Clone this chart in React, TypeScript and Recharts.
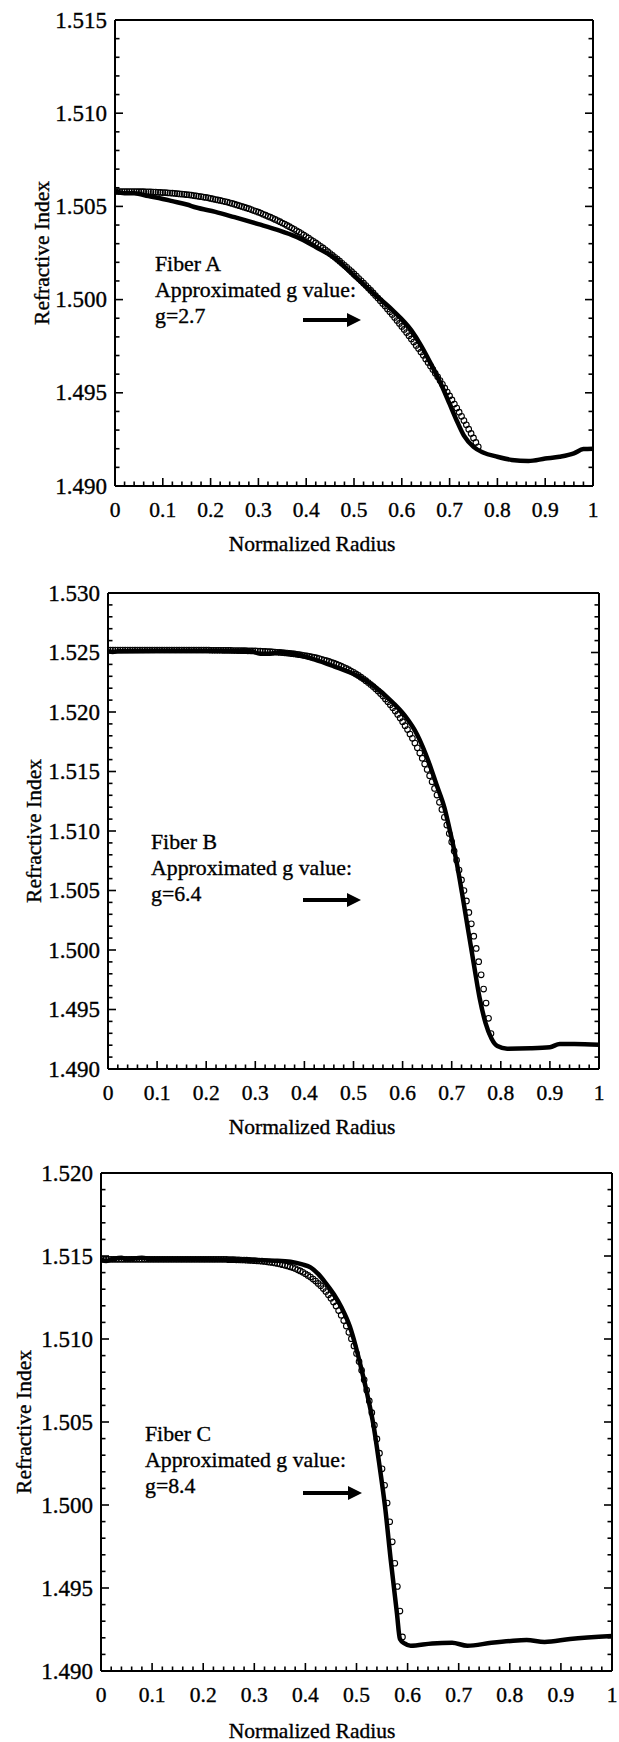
import React from 'react';
import { ComposedChart, Line, Scatter, XAxis, YAxis } from 'recharts';

const FONT = 'Liberation Serif, Times New Roman, Times, serif';

// shared x ticks, minor every 0.02
const xTicks = [0, 0.02, 0.04, 0.06, 0.08, 0.1, 0.12, 0.14, 0.16, 0.18, 0.2, 0.22, 0.24, 0.26, 0.28, 0.3, 0.32, 0.34, 0.36, 0.38, 0.4, 0.42, 0.44, 0.46, 0.48, 0.5, 0.52, 0.54, 0.56, 0.58, 0.6, 0.62, 0.64, 0.66, 0.68, 0.7, 0.72, 0.74, 0.76, 0.78, 0.8, 0.82, 0.84, 0.86, 0.88, 0.9, 0.92, 0.94, 0.96, 0.98, 1];

const yTicksA = [1.49, 1.491, 1.492, 1.493, 1.494, 1.495, 1.496, 1.497, 1.498, 1.499, 1.5, 1.501, 1.502, 1.503, 1.504, 1.505, 1.506, 1.507, 1.508, 1.509, 1.51, 1.511, 1.512, 1.513, 1.514, 1.515];
const yTicksB = [1.49, 1.491, 1.492, 1.493, 1.494, 1.495, 1.496, 1.497, 1.498, 1.499, 1.5, 1.501, 1.502, 1.503, 1.504, 1.505, 1.506, 1.507, 1.508, 1.509, 1.51, 1.511, 1.512, 1.513, 1.514, 1.515, 1.516, 1.517, 1.518, 1.519, 1.52, 1.521, 1.522, 1.523, 1.524, 1.525, 1.526, 1.527, 1.528, 1.529, 1.53];
const yTicksC = [1.49, 1.491, 1.492, 1.493, 1.494, 1.495, 1.496, 1.497, 1.498, 1.499, 1.5, 1.501, 1.502, 1.503, 1.504, 1.505, 1.506, 1.507, 1.508, 1.509, 1.51, 1.511, 1.512, 1.513, 1.514, 1.515, 1.516, 1.517, 1.518, 1.519, 1.52];

type Pt = [number, number];

// Fiber A: measured profile (thick line) and g-profile fit (circles)
const measuredA: Pt[] = [[0, 1.5058], [0.02, 1.5057], [0.04, 1.5057], [0.07, 1.50555], [0.1, 1.5054], [0.12, 1.50528], [0.15, 1.5051], [0.17, 1.50494], [0.21, 1.50471], [0.25, 1.50442], [0.3, 1.50405], [0.34, 1.50374], [0.38, 1.50336], [0.42, 1.50282], [0.46, 1.50222], [0.5, 1.50128], [0.54, 1.50035], [0.58, 1.49945], [0.62, 1.49835], [0.64, 1.49755], [0.665, 1.49635], [0.685, 1.4953], [0.7, 1.4944], [0.715, 1.4935], [0.73, 1.4927], [0.75, 1.4921], [0.77, 1.4918], [0.8, 1.49157], [0.83, 1.4914], [0.865, 1.49134], [0.9, 1.49147], [0.93, 1.49157], [0.96, 1.49175], [0.98, 1.49198], [1, 1.492]];
const fitA: Pt[] = [[0, 1.5058], [0.005, 1.5058], [0.01, 1.5058], [0.015, 1.5058], [0.02, 1.5058], [0.025, 1.5058], [0.03, 1.5058], [0.035, 1.5058], [0.04, 1.5058], [0.045, 1.5058], [0.05, 1.50579], [0.055, 1.50579], [0.06, 1.50579], [0.065, 1.50578], [0.07, 1.50578], [0.075, 1.50578], [0.08, 1.50577], [0.085, 1.50577], [0.09, 1.50576], [0.095, 1.50575], [0.1, 1.50574], [0.105, 1.50574], [0.11, 1.50573], [0.115, 1.50572], [0.12, 1.50571], [0.125, 1.5057], [0.13, 1.50568], [0.135, 1.50567], [0.14, 1.50566], [0.145, 1.50565], [0.15, 1.50563], [0.155, 1.50562], [0.16, 1.5056], [0.165, 1.50558], [0.17, 1.50556], [0.175, 1.50554], [0.18, 1.50552], [0.185, 1.5055], [0.19, 1.50548], [0.195, 1.50546], [0.2, 1.50543], [0.205, 1.5054], [0.21, 1.50537], [0.215, 1.50535], [0.22, 1.50532], [0.225, 1.50529], [0.23, 1.50526], [0.235, 1.50523], [0.24, 1.50519], [0.245, 1.50516], [0.25, 1.50512], [0.255, 1.50508], [0.26, 1.50504], [0.265, 1.505], [0.27, 1.50496], [0.275, 1.50492], [0.28, 1.50488], [0.285, 1.50483], [0.29, 1.50478], [0.295, 1.50474], [0.3, 1.50469], [0.305, 1.50464], [0.31, 1.50458], [0.315, 1.50453], [0.32, 1.50447], [0.325, 1.50442], [0.33, 1.50436], [0.335, 1.5043], [0.34, 1.50424], [0.345, 1.50418], [0.35, 1.50411], [0.355, 1.50405], [0.36, 1.50398], [0.365, 1.50391], [0.37, 1.50384], [0.375, 1.50377], [0.38, 1.50369], [0.385, 1.50362], [0.39, 1.50354], [0.395, 1.50346], [0.4, 1.50338], [0.405, 1.5033], [0.41, 1.50321], [0.415, 1.50313], [0.42, 1.50304], [0.425, 1.50295], [0.43, 1.50286], [0.435, 1.50277], [0.44, 1.50267], [0.445, 1.50257], [0.45, 1.50247], [0.455, 1.50237], [0.46, 1.50227], [0.465, 1.50217], [0.47, 1.50206], [0.475, 1.50195], [0.48, 1.50184], [0.485, 1.50173], [0.49, 1.50161], [0.495, 1.5015], [0.5, 1.50138], [0.505, 1.50126], [0.51, 1.50113], [0.515, 1.50101], [0.52, 1.50088], [0.525, 1.50075], [0.53, 1.50062], [0.535, 1.50049], [0.54, 1.50036], [0.545, 1.50022], [0.55, 1.50008], [0.555, 1.49994], [0.56, 1.49979], [0.565, 1.49965], [0.57, 1.4995], [0.575, 1.49935], [0.58, 1.4992], [0.585, 1.49904], [0.59, 1.49888], [0.595, 1.49872], [0.6, 1.49856], [0.605, 1.4984], [0.61, 1.49823], [0.615, 1.49806], [0.62, 1.49789], [0.625, 1.49772], [0.63, 1.49754], [0.635, 1.49737], [0.64, 1.49719], [0.645, 1.49701], [0.65, 1.49682], [0.655, 1.49663], [0.66, 1.49644], [0.665, 1.49625], [0.67, 1.49605], [0.675, 1.49586], [0.68, 1.49566], [0.685, 1.49546], [0.69, 1.49525], [0.695, 1.49504], [0.7, 1.49483], [0.705, 1.49462], [0.71, 1.4944], [0.715, 1.49418], [0.72, 1.49396], [0.725, 1.49374], [0.73, 1.49351], [0.735, 1.49328], [0.74, 1.49305], [0.745, 1.49282], [0.75, 1.49258], [0.755, 1.49234], [0.76, 1.4921]];

// Fiber B
const measuredB: Pt[] = [[0, 1.5251], [0.01, 1.52505], [0.02, 1.5251], [0.1, 1.52515], [0.2, 1.52515], [0.29, 1.5251], [0.31, 1.5249], [0.33, 1.5249], [0.35, 1.52502], [0.38, 1.52487], [0.42, 1.52442], [0.46, 1.52384], [0.5, 1.5232], [0.54, 1.52224], [0.58, 1.5208], [0.605, 1.51967], [0.63, 1.51807], [0.653, 1.51582], [0.669, 1.5139], [0.685, 1.51198], [0.697, 1.5099], [0.709, 1.5076], [0.721, 1.5048], [0.733, 1.5018], [0.745, 1.49883], [0.757, 1.49594], [0.769, 1.49386], [0.781, 1.49257], [0.793, 1.49193], [0.813, 1.49171], [0.86, 1.49174], [0.9, 1.49183], [0.92, 1.4921], [0.95, 1.4921], [1, 1.49203]];
const fitB: Pt[] = [[0, 1.5252], [0.005, 1.5252], [0.01, 1.5252], [0.015, 1.5252], [0.02, 1.5252], [0.025, 1.5252], [0.03, 1.5252], [0.035, 1.5252], [0.04, 1.5252], [0.045, 1.5252], [0.05, 1.5252], [0.055, 1.5252], [0.06, 1.5252], [0.065, 1.5252], [0.07, 1.5252], [0.075, 1.5252], [0.08, 1.5252], [0.085, 1.5252], [0.09, 1.5252], [0.095, 1.5252], [0.1, 1.5252], [0.105, 1.5252], [0.11, 1.5252], [0.115, 1.5252], [0.12, 1.5252], [0.125, 1.5252], [0.13, 1.5252], [0.135, 1.5252], [0.14, 1.5252], [0.145, 1.5252], [0.15, 1.5252], [0.155, 1.5252], [0.16, 1.5252], [0.165, 1.5252], [0.17, 1.5252], [0.175, 1.5252], [0.18, 1.5252], [0.185, 1.5252], [0.19, 1.5252], [0.195, 1.5252], [0.2, 1.5252], [0.205, 1.5252], [0.21, 1.52519], [0.215, 1.52519], [0.22, 1.52519], [0.225, 1.52519], [0.23, 1.52519], [0.235, 1.52518], [0.24, 1.52518], [0.245, 1.52518], [0.25, 1.52518], [0.255, 1.52517], [0.26, 1.52517], [0.265, 1.52516], [0.27, 1.52516], [0.275, 1.52515], [0.28, 1.52515], [0.285, 1.52514], [0.29, 1.52514], [0.295, 1.52513], [0.3, 1.52513], [0.305, 1.52512], [0.31, 1.52511], [0.315, 1.5251], [0.32, 1.52509], [0.325, 1.52508], [0.33, 1.52507], [0.335, 1.52505], [0.34, 1.52504], [0.345, 1.52502], [0.35, 1.52501], [0.355, 1.52499], [0.36, 1.52497], [0.365, 1.52495], [0.37, 1.52493], [0.375, 1.5249], [0.38, 1.52488], [0.385, 1.52485], [0.39, 1.52482], [0.395, 1.52478], [0.4, 1.52475], [0.405, 1.52471], [0.41, 1.52467], [0.415, 1.52463], [0.42, 1.52459], [0.425, 1.52454], [0.43, 1.52449], [0.435, 1.52443], [0.44, 1.52437], [0.445, 1.52431], [0.45, 1.52425], [0.455, 1.52417], [0.46, 1.5241], [0.465, 1.52402], [0.47, 1.52394], [0.475, 1.52385], [0.48, 1.52376], [0.485, 1.52366], [0.49, 1.52356], [0.495, 1.52344], [0.5, 1.52333], [0.505, 1.5232], [0.51, 1.52307], [0.515, 1.52293], [0.52, 1.52279], [0.525, 1.52263], [0.53, 1.52248], [0.535, 1.52231], [0.54, 1.52214], [0.545, 1.52195], [0.55, 1.52176], [0.555, 1.52155], [0.56, 1.52134], [0.565, 1.5211], [0.57, 1.52087], [0.575, 1.52061], [0.58, 1.52036], [0.585, 1.52008], [0.59, 1.5198], [0.595, 1.51949], [0.6, 1.51919], [0.605, 1.51885], [0.61, 1.51852], [0.615, 1.51815], [0.62, 1.51779], [0.625, 1.51739], [0.63, 1.51699], [0.635, 1.51655], [0.64, 1.51612], [0.645, 1.51564], [0.65, 1.51517], [0.655, 1.51465], [0.66, 1.51414], [0.665, 1.51358], [0.67, 1.51302], [0.675, 1.51241], [0.68, 1.51181], [0.685, 1.51115], [0.69, 1.5105], [0.695, 1.50979], [0.7, 1.50908], [0.705, 1.50831], [0.71, 1.50755], [0.715, 1.50672], [0.72, 1.50589], [0.725, 1.505], [0.73, 1.50412], [0.735, 1.50316], [0.74, 1.5022], [0.745, 1.50116], [0.75, 1.50013], [0.755, 1.49902], [0.76, 1.49791], [0.765, 1.49672], [0.77, 1.49554], [0.775, 1.49426], [0.78, 1.49298]];

// Fiber C
const measuredC: Pt[] = [[0, 1.51478], [0.01, 1.5147], [0.02, 1.51478], [0.04, 1.5149], [0.05, 1.5148], [0.08, 1.5149], [0.1, 1.5148], [0.2, 1.5148], [0.3, 1.51475], [0.34, 1.51472], [0.371, 1.51465], [0.394, 1.51449], [0.41, 1.51431], [0.425, 1.51392], [0.44, 1.51336], [0.456, 1.51268], [0.471, 1.51188], [0.487, 1.51075], [0.498, 1.50961], [0.51, 1.50814], [0.521, 1.50667], [0.533, 1.50485], [0.544, 1.50259], [0.556, 1.49986], [0.567, 1.49669], [0.579, 1.49351], [0.585, 1.49193], [0.594, 1.49166], [0.606, 1.49152], [0.648, 1.49166], [0.687, 1.4917], [0.717, 1.49152], [0.764, 1.4917], [0.802, 1.49181], [0.833, 1.49186], [0.868, 1.49175], [0.918, 1.49193], [1, 1.49211]];
const fitC: Pt[] = [[0, 1.5148], [0.005, 1.5148], [0.01, 1.5148], [0.015, 1.5148], [0.02, 1.5148], [0.025, 1.5148], [0.03, 1.5148], [0.035, 1.5148], [0.04, 1.5148], [0.045, 1.5148], [0.05, 1.5148], [0.055, 1.5148], [0.06, 1.5148], [0.065, 1.5148], [0.07, 1.5148], [0.075, 1.5148], [0.08, 1.5148], [0.085, 1.5148], [0.09, 1.5148], [0.095, 1.5148], [0.1, 1.5148], [0.105, 1.5148], [0.11, 1.5148], [0.115, 1.5148], [0.12, 1.5148], [0.125, 1.5148], [0.13, 1.5148], [0.135, 1.5148], [0.14, 1.5148], [0.145, 1.5148], [0.15, 1.5148], [0.155, 1.5148], [0.16, 1.5148], [0.165, 1.5148], [0.17, 1.5148], [0.175, 1.5148], [0.18, 1.5148], [0.185, 1.5148], [0.19, 1.5148], [0.195, 1.5148], [0.2, 1.5148], [0.205, 1.5148], [0.21, 1.5148], [0.215, 1.5148], [0.22, 1.5148], [0.225, 1.5148], [0.23, 1.5148], [0.235, 1.5148], [0.24, 1.5148], [0.245, 1.5148], [0.25, 1.51478], [0.255, 1.51478], [0.26, 1.51478], [0.265, 1.51477], [0.27, 1.51477], [0.275, 1.51476], [0.28, 1.51476], [0.285, 1.51475], [0.29, 1.51474], [0.295, 1.51473], [0.3, 1.51472], [0.305, 1.51471], [0.31, 1.5147], [0.315, 1.51469], [0.32, 1.51467], [0.325, 1.51465], [0.33, 1.51463], [0.335, 1.51461], [0.34, 1.51458], [0.345, 1.51455], [0.35, 1.51452], [0.355, 1.51448], [0.36, 1.51444], [0.365, 1.5144], [0.37, 1.51435], [0.375, 1.5143], [0.38, 1.51424], [0.385, 1.51417], [0.39, 1.5141], [0.395, 1.51402], [0.4, 1.51393], [0.405, 1.51383], [0.41, 1.51373], [0.415, 1.51361], [0.42, 1.51349], [0.425, 1.51335], [0.43, 1.51321], [0.435, 1.51304], [0.44, 1.51286], [0.445, 1.51266], [0.45, 1.51246], [0.455, 1.51223], [0.46, 1.51199], [0.465, 1.51171], [0.47, 1.51143], [0.475, 1.51111], [0.48, 1.51078], [0.485, 1.5104], [0.49, 1.51002], [0.495, 1.50958], [0.5, 1.50913], [0.505, 1.50864], [0.51, 1.50811], [0.515, 1.50754], [0.52, 1.50692], [0.525, 1.50627], [0.53, 1.50556], [0.535, 1.50481], [0.54, 1.50398], [0.545, 1.50312], [0.55, 1.50218], [0.555, 1.50119], [0.56, 1.50012], [0.565, 1.49899], [0.57, 1.49778], [0.575, 1.49649], [0.58, 1.49509], [0.585, 1.49361], [0.59, 1.49205]];

const toRows = (pts: Pt[]) => pts.map(([r, n]) => ({ r, n }));

const isMajorX = (v: number) => Math.abs(v * 10 - Math.round(v * 10)) < 1e-6;
const isMajorY = (v: number) => Math.abs(v * 200 - Math.round(v * 200)) < 1e-6;
const fmtX = (v: number) => (v === 0 || v === 1 ? String(v) : v.toFixed(1));

const MAJOR = 8;
const MINOR = 4.5;
const X_FONT = 21.5;
const Y_FONT = 23;
// scanned original prints heavy, a hairline stroke thickens the glyphs a little
const ink = { fill: '#000', stroke: '#000', strokeWidth: 0.35 };

function BottomTick(props: any) {
  const { x, y, payload } = props;
  const major = isMajorX(payload.value);
  return (
    <g>
      <line x1={x} x2={x} y1={y} y2={y - (major ? MAJOR : MINOR)} stroke="#000" strokeWidth={1.6} />
      {major && (
        <text x={x} y={y + 24} textAnchor="middle" dominantBaseline="central" fontFamily={FONT} fontSize={X_FONT} {...ink}>
          {fmtX(payload.value)}
        </text>
      )}
    </g>
  );
}

function TopTick(props: any) {
  const { x, y, payload } = props;
  const major = isMajorX(payload.value);
  return <line x1={x} x2={x} y1={y} y2={y + (major ? MAJOR : MINOR)} stroke="#000" strokeWidth={1.6} />;
}

function LeftTick(props: any) {
  const { x, y, payload } = props;
  const major = isMajorY(payload.value);
  return (
    <g>
      <line x1={x} x2={x + (major ? MAJOR : MINOR)} y1={y} y2={y} stroke="#000" strokeWidth={1.6} />
      {major && (
        <text x={x - 8} y={y} textAnchor="end" dominantBaseline="central" fontFamily={FONT} fontSize={Y_FONT} {...ink}>
          {payload.value.toFixed(3)}
        </text>
      )}
    </g>
  );
}

function RightTick(props: any) {
  const { x, y, payload } = props;
  const major = isMajorY(payload.value);
  return <line x1={x} x2={x - (major ? MAJOR : MINOR)} y1={y} y2={y} stroke="#000" strokeWidth={1.6} />;
}

function OpenCircle(props: any) {
  const { cx, cy } = props;
  if (cx == null || cy == null) return <g />;
  return <circle cx={cx} cy={cy} r={2.8} fill="none" stroke="#000" strokeWidth={1.1} />;
}

const border = { stroke: '#000', strokeWidth: 2 };

type PanelProps = {
  top: number;
  height: number;
  margin: { top: number; right: number; bottom: number; left: number };
  yDomain: [number, number];
  yTicks: number[];
  fit: Pt[];
  measured: Pt[];
};

// axes get 1px of width/height (recharts skips a zero-size axis), margins below already subtract it
function Panel({ top, height, margin, yDomain, yTicks, fit, measured }: PanelProps) {
  const m = { top: margin.top - 1, right: margin.right - 1, bottom: margin.bottom - 1, left: margin.left - 1 };
  return (
    <div style={{ position: 'absolute', left: 0, top }}>
      <ComposedChart width={619} height={height} margin={m}>
        <XAxis type="number" dataKey="r" domain={[0, 1]} ticks={xTicks} interval={0} allowDataOverflow
          height={1} tickSize={0} tickMargin={0} tickLine={false} axisLine={border} tick={BottomTick} />
        <XAxis xAxisId="top" orientation="top" type="number" domain={[0, 1]} ticks={xTicks} interval={0} allowDataOverflow
          height={1} tickSize={0} tickMargin={0} tickLine={false} axisLine={border} tick={TopTick} />
        <YAxis type="number" dataKey="n" domain={yDomain} ticks={yTicks} interval={0} allowDataOverflow
          width={1} tickSize={0} tickMargin={0} tickLine={false} axisLine={border} tick={LeftTick} />
        <YAxis yAxisId="right" orientation="right" type="number" domain={yDomain} ticks={yTicks} interval={0} allowDataOverflow
          width={1} tickSize={0} tickMargin={0} tickLine={false} axisLine={border} tick={RightTick} />
        <Line data={toRows(measured)} dataKey="n" type="monotone" dot={false} stroke="#000" strokeWidth={4.5}
          strokeLinecap="round" strokeLinejoin="round" isAnimationActive={false} />
        <Scatter data={toRows(fit)} dataKey="n" shape={OpenCircle} isAnimationActive={false} />
      </ComposedChart>
    </div>
  );
}

const textStyle = { fontFamily: FONT, ...ink };

function Arrow({ x1, x2, y }: { x1: number; x2: number; y: number }) {
  return (
    <g>
      <line x1={x1} x2={x2 - 12} y1={y} y2={y} stroke="#000" strokeWidth={4} />
      <polygon points={`${x2 - 14},${y - 7} ${x2},${y} ${x2 - 14},${y + 7}`} fill="#000" />
    </g>
  );
}

function Note({ x, y, name, g }: { x: number; y: number; name: string; g: string }) {
  return (
    <g>
      <text x={x} y={y} fontSize={21.8} {...textStyle}>{name}</text>
      <text x={x} y={y + 26} fontSize={21.8} {...textStyle}>Approximated g value:</text>
      <text x={x} y={y + 52} fontSize={21.8} {...textStyle}>{g}</text>
    </g>
  );
}

function AxisTitles({ xTitleY, yTitleX, yTitleY }: { xTitleY: number; yTitleX: number; yTitleY: number }) {
  return (
    <g>
      <text x={312} y={xTitleY} textAnchor="middle" fontSize={21.5} {...textStyle}>Normalized Radius</text>
      <text x={yTitleX} y={yTitleY} textAnchor="middle" dominantBaseline="central" fontSize={21.5}
        transform={`rotate(-90 ${yTitleX} ${yTitleY})`} {...textStyle}>Refractive Index</text>
    </g>
  );
}

export default function App() {
  return (
    <div style={{ position: 'absolute', left: 0, top: 0, width: 619, height: 1742, background: '#fff', overflow: 'hidden' }}>
      <Panel top={0} height={580} margin={{ top: 20, right: 26, bottom: 94, left: 115 }}
        yDomain={[1.49, 1.515]} yTicks={yTicksA} fit={fitA} measured={measuredA} />
      <Panel top={560} height={600} margin={{ top: 33, right: 20, bottom: 91, left: 108 }}
        yDomain={[1.49, 1.53]} yTicks={yTicksB} fit={fitB} measured={measuredB} />
      <Panel top={1150} height={592} margin={{ top: 23, right: 7, bottom: 71, left: 101 }}
        yDomain={[1.49, 1.52]} yTicks={yTicksC} fit={fitC} measured={measuredC} />
      <svg width={619} height={1742} style={{ position: 'absolute', left: 0, top: 0, pointerEvents: 'none' }}>
        <AxisTitles xTitleY={551} yTitleX={42} yTitleY={253} />
        <AxisTitles xTitleY={1134} yTitleX={34} yTitleY={831} />
        <AxisTitles xTitleY={1738} yTitleX={24} yTitleY={1422} />
        <Note x={155} y={271} name="Fiber A" g="g=2.7" />
        <Note x={151} y={849} name="Fiber B" g="g=6.4" />
        <Note x={145} y={1441} name="Fiber C" g="g=8.4" />
        <Arrow x1={303} x2={361} y={320} />
        <Arrow x1={303} x2={361} y={900} />
        <Arrow x1={303} x2={362} y={1493} />
      </svg>
    </div>
  );
}
